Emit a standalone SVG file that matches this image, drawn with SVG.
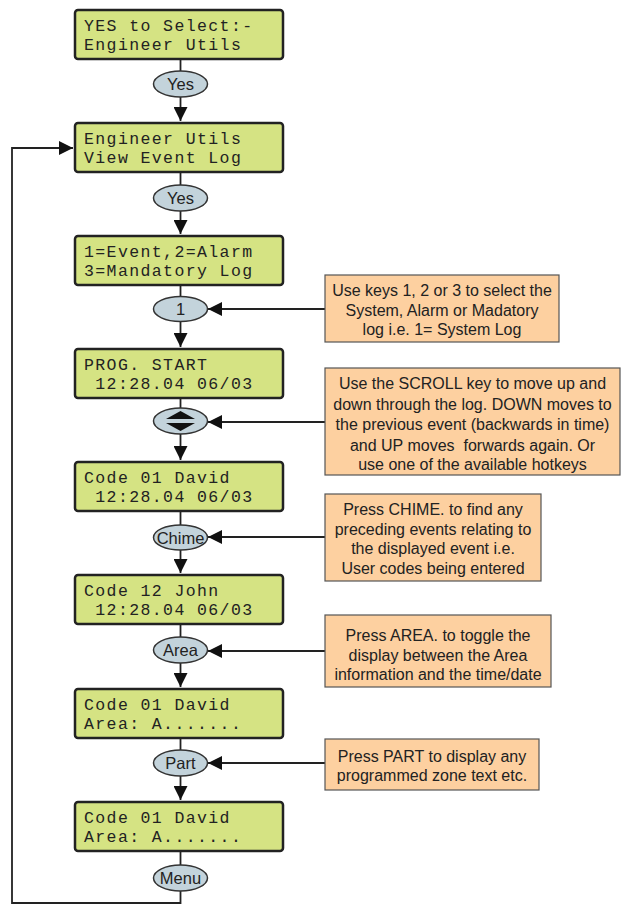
<svg xmlns="http://www.w3.org/2000/svg" width="624" height="905" viewBox="0 0 624 905">
<style>
.lcd{fill:#d5e383;stroke:#222;stroke-width:2.5}
.lt{font-family:"Liberation Mono","DejaVu Sans Mono",monospace;font-size:16.5px;letter-spacing:1.4px;fill:#222;white-space:pre}
.key{fill:#c3d3db;stroke:#333;stroke-width:1.5}
.kt{font-family:"Liberation Sans",Arial,sans-serif;font-size:16.5px;fill:#222;text-anchor:middle}
.note{fill:#fdd0a0;stroke:#555;stroke-width:1.2}
.nt{font-family:"Liberation Sans",Arial,sans-serif;font-size:16px;fill:#222;text-anchor:middle}
.ln{fill:none;stroke:#222;stroke-width:1.8}
</style>
<defs>
<marker id="ah" viewBox="0 0 14 14" refX="14" refY="7" markerWidth="14" markerHeight="14" markerUnits="userSpaceOnUse" orient="auto">
<path d="M0,0 L14,7 L0,14 Z" fill="#111"/>
</marker>
</defs>
<rect width="624" height="905" fill="#fff"/>
<g id="connectors">
<path class="ln" d="M180.5,59 V71"/>
<path class="ln" d="M180.5,97 V121" marker-end="url(#ah)"/>
<path class="ln" d="M180.5,172 V185"/>
<path class="ln" d="M180.5,211 V234" marker-end="url(#ah)"/>
<path class="ln" d="M180.5,285 V297"/>
<path class="ln" d="M180.5,321 V347" marker-end="url(#ah)"/>
<path class="ln" d="M180.5,398 V408"/>
<path class="ln" d="M180.5,434 V460" marker-end="url(#ah)"/>
<path class="ln" d="M180.5,511 V525"/>
<path class="ln" d="M180.5,550 V573" marker-end="url(#ah)"/>
<path class="ln" d="M180.5,624 V637"/>
<path class="ln" d="M180.5,663 V687" marker-end="url(#ah)"/>
<path class="ln" d="M180.5,738 V750"/>
<path class="ln" d="M180.5,776 V800" marker-end="url(#ah)"/>
<path class="ln" d="M180.5,851 V865"/>
<path class="ln" d="M180.5,891 V903 H12 V148 H73" marker-end="url(#ah)"/>
<path class="ln" d="M325,309 H208" marker-end="url(#ah)"/>
<path class="ln" d="M325,422 H208" marker-end="url(#ah)"/>
<path class="ln" d="M325,537 H208" marker-end="url(#ah)"/>
<path class="ln" d="M325,651 H208" marker-end="url(#ah)"/>
<path class="ln" d="M325,763 H208" marker-end="url(#ah)"/>
</g>
<g id="lcd1"><rect class="lcd" x="75" y="10" width="208" height="49" rx="3"/><text class="lt" x="84" y="31">YES to Select:-</text><text class="lt" x="84" y="50">Engineer Utils</text></g>
<g id="key1"><ellipse class="key" cx="180.5" cy="84" rx="27" ry="13"/><text class="kt" x="180.5" y="90">Yes</text></g>
<g id="lcd2"><rect class="lcd" x="75" y="123" width="208" height="49" rx="3"/><text class="lt" x="84" y="144">Engineer Utils</text><text class="lt" x="84" y="163">View Event Log</text></g>
<g id="key2"><ellipse class="key" cx="180.5" cy="198" rx="27" ry="13"/><text class="kt" x="180.5" y="204">Yes</text></g>
<g id="lcd3"><rect class="lcd" x="75" y="236" width="208" height="49" rx="3"/><text class="lt" x="84" y="257">1=Event,2=Alarm</text><text class="lt" x="84" y="276">3=Mandatory Log</text></g>
<g id="key3"><ellipse class="key" cx="180.5" cy="309" rx="27" ry="12.5"/><text class="kt" x="180.5" y="315">1</text></g>
<g id="lcd4"><rect class="lcd" x="75" y="349" width="208" height="49" rx="3"/><text class="lt" x="84" y="370">PROG. START</text><text class="lt" x="84" y="389"> 12:28.04 06/03</text></g>
<g id="key4"><ellipse class="key" cx="180.5" cy="421" rx="27" ry="13"/><path d="M166,419 H195 L180.5,411 Z M166,423 H195 L180.5,431 Z" fill="#111"/></g>
<g id="lcd5"><rect class="lcd" x="75" y="462" width="208" height="49" rx="3"/><text class="lt" x="84" y="483">Code 01 David</text><text class="lt" x="84" y="502"> 12:28.04 06/03</text></g>
<g id="key5"><ellipse class="key" cx="180.5" cy="537.5" rx="27" ry="12.5"/><text class="kt" x="180.5" y="543.5">Chime</text></g>
<g id="lcd6"><rect class="lcd" x="75" y="575" width="208" height="49" rx="3"/><text class="lt" x="84" y="596">Code 12 John</text><text class="lt" x="84" y="615"> 12:28.04 06/03</text></g>
<g id="key6"><ellipse class="key" cx="180.5" cy="650" rx="27" ry="13"/><text class="kt" x="180.5" y="656">Area</text></g>
<g id="lcd7"><rect class="lcd" x="75" y="689" width="208" height="49" rx="3"/><text class="lt" x="84" y="710">Code 01 David</text><text class="lt" x="84" y="729">Area: A.......</text></g>
<g id="key7"><ellipse class="key" cx="180.5" cy="763" rx="27" ry="13"/><text class="kt" x="180.5" y="769">Part</text></g>
<g id="lcd8"><rect class="lcd" x="75" y="802" width="208" height="49" rx="3"/><text class="lt" x="84" y="823">Code 01 David</text><text class="lt" x="84" y="842">Area: A.......</text></g>
<g id="key8"><ellipse class="key" cx="180.5" cy="878" rx="27" ry="13"/><text class="kt" x="180.5" y="884">Menu</text></g>
<g id="note1"><rect class="note" x="325" y="275" width="234" height="67"/><text class="nt" x="442" y="296">Use keys 1, 2 or 3 to select the</text><text class="nt" x="442" y="315.5">System, Alarm or Madatory</text><text class="nt" x="442" y="335">log i.e. 1= System Log</text></g>
<g id="note2"><rect class="note" x="325" y="368" width="295" height="107"/><text class="nt" x="472.5" y="389">Use the SCROLL key to move up and</text><text class="nt" x="472.5" y="409.5">down through the log. DOWN moves to</text><text class="nt" x="472.5" y="430">the previous event (backwards in time)</text><text class="nt" x="472.5" y="450.5" style="white-space:pre">and UP moves  forwards again. Or</text><text class="nt" x="472.5" y="470">use one of the available hotkeys</text></g>
<g id="note3"><rect class="note" x="325" y="494" width="216" height="87"/><text class="nt" x="433" y="515">Press CHIME. to find any</text><text class="nt" x="433" y="534.5">preceding events relating to</text><text class="nt" x="433" y="554">the displayed event i.e.</text><text class="nt" x="433" y="573.5">User codes being entered</text></g>
<g id="note4"><rect class="note" x="325" y="615" width="226" height="72"/><text class="nt" x="438" y="641">Press AREA. to toggle the</text><text class="nt" x="438" y="660.5">display between the Area</text><text class="nt" x="438" y="680">information and the time/date</text></g>
<g id="note5"><rect class="note" x="325" y="739" width="214" height="51"/><text class="nt" x="432" y="762">Press PART to display any</text><text class="nt" x="432" y="781">programmed zone text etc.</text></g>
</svg>
